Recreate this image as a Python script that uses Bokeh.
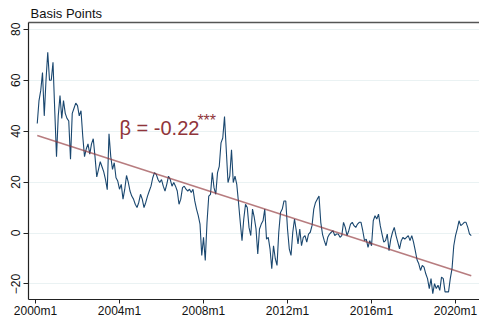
from bokeh.plotting import figure
from bokeh.models import Range1d, LinearAxis, FixedTicker, Label, ColumnDataSource
from bokeh.embed import file_html
from bokeh.resources import INLINE

# Monthly spread in basis points, starting 2000m2
start_month = 1  # months since 2000m1
seg_2000_2003 = [43, 52, 56, 63, 46, 60, 71, 60, 60, 67, 48, 30, 46, 54, 45, 52, 47, 45, 44, 29,
                 47, 49, 51, 50, 46, 48, 38, 30, 33, 35, 31, 35, 37, 30, 22, 25, 28, 26, 24, 21,
                 17, 39]
seg_2003_2007 = [30, 25, 27.6, 21.7, 20.4, 17.2, 19.1, 13.3, 17.2, 22.6, 20, 16.5, 14.5, 13.3, 11.3,
                 10, 12, 15.2, 13.3, 10, 12, 14.5, 16.5, 18.4, 21.7, 23.7, 23, 21, 19.8, 21,
                 18.4, 16.5, 19.1, 22.3, 21, 18.4, 19.8, 18.4, 16.5, 11.3, 13.3, 17.8, 18.4, 17.2]
seg_2007_2010 = [16.5, 17.2, 15.9, 17.2, 12.6, 9.4, 6.8, 3.5, -8.8, -1.7, -10.8, 4.2, 14.5, 15.2,
                 23.7, 17.8, 15.2, 23.7, 26.2, 35.4, 37.3, 45.7, 32.7, 19.8, 22.3, 32.7, 19.8,
                 22.3, 19.1, 12, 4.2, -3, 5.5, 11.3, 10, 2.2, -1, 9.4, 6.1, 1.6, -8.2, 1.6, 3.5]
seg_2011_2014 = [4.8, 9.4, -2.4, -1.7, -6.2, -14, -5, -10, -12.7, 0.3, 8.1, 9.4, 12.6, 12.6, 1.6,
                 -6.2, -8.8, 0.3, 5.5, 0.9, -4.3, 1.6, -5, -1.7, -1, -3.6, -0.4, 0.3, 2.9, 9.4,
                 12, 13.3, 14.5, 4.2, -0.5, -3, -5, -1.7, -0.4, 0.3, 0.9, -1, -0.4]
seg_2014_2017 = [-0.4, -1.7, -1, 4.2, 2.2, -1, 0.9, 3.5, 4.2, 2.9, 2.2, 3.5, 4.2, 4.2, 0.9, -3,
                 -2.4, -5.6, -3, -5, 4.8, 6.8, 5.5, 7.4, 2.9, -0.4, -3.6, -3, -0.4, -6.9, -2.4,
                 0.3, 2.2, -1, -3.6, -6.2, -3, -1.7, -2.4, -1.7, -1, -3]
seg_2018_2020 = [-1, -3.6, -6.9, -10.5, -12.1, -14.7, -12.7, -13.4, -16, -17.9, -21.8, -17.9,
                 -23.8, -19.9, -21.8, -20.5, -22.5, -17.3, -17.9, -23.1, -23.1, -23.1, -17.9,
                 -14, -5, -1, 1.6, 4.8, 2.9, 3.5, 4.2, 4.2, 2.2, -0.4, -1]

basis_points = (seg_2000_2003 + seg_2003_2007 + seg_2007_2010 + seg_2011_2014
                + seg_2014_2017 + seg_2018_2020)
months = list(range(start_month, start_month + len(basis_points)))

# Linear trend (fitted): value = fit_intercept + fit_slope * month
fit_intercept = 38.5
fit_slope = -0.222
fit_x = [months[0], months[-1]]
fit_y = [fit_intercept + fit_slope * m for m in fit_x]

tick_months = [0, 48, 96, 144, 192, 240]
tick_labels = ["2000m1", "2004m1", "2008m1", "2012m1", "2016m1", "2020m1"]
y_ticks = [-20, 0, 20, 40, 60, 80]

FONT = "Liberation Sans"
NAVY = "#1a476f"
MAROON = "#90353b"

p = figure(width=479, height=320, output_backend="svg", toolbar_location=None,
           x_range=Range1d(-4, 253.7), y_range=Range1d(-26.1, 82.65),
           x_axis_location=None, y_axis_location=None,
           min_border_left=28, min_border_right=0, min_border_top=22, min_border_bottom=19)
p.outline_line_color = None
p.background_fill_color = "white"
p.border_fill_color = "white"

p.title.text = "Basis Points"
p.title.text_font = FONT
p.title.text_font_size = "13px"
p.title.text_font_style = "normal"
p.title.text_color = "#111111"
p.title.align = "left"
p.title.offset = 2
p.title.standoff = 3

yaxis = LinearAxis(ticker=FixedTicker(ticks=y_ticks))
yaxis.major_label_orientation = "vertical"
yaxis.major_label_text_font = FONT
yaxis.major_label_text_font_size = "12px"
yaxis.major_label_text_color = "#111111"
yaxis.major_tick_out = 5
yaxis.major_tick_in = 0
yaxis.minor_tick_line_color = None
yaxis.major_label_standoff = 3
yaxis.axis_line_color = "#222222"
yaxis.axis_line_width = 1.2
yaxis.major_tick_line_color = "#222222"
p.add_layout(yaxis, "left")

xaxis = LinearAxis(ticker=FixedTicker(ticks=tick_months))
xaxis.major_label_overrides = {m: lab for m, lab in zip(tick_months, tick_labels)}
xaxis.major_label_text_font = FONT
xaxis.major_label_text_font_size = "12px"
xaxis.major_label_text_color = "#111111"
xaxis.major_tick_out = 4
xaxis.major_tick_in = 0
xaxis.minor_tick_line_color = None
xaxis.major_label_standoff = 0
xaxis.axis_line_color = "#222222"
xaxis.axis_line_width = 1.2
xaxis.major_tick_line_color = "#222222"
p.add_layout(xaxis, "below")

top = LinearAxis(ticker=FixedTicker(ticks=[]))
top.major_tick_line_color = None
top.minor_tick_line_color = None
top.major_label_text_font_size = "0px"
top.major_label_standoff = 0
top.major_tick_out = 0
top.axis_line_color = "#555555"
top.axis_line_width = 1.5
p.add_layout(top, "above")

p.xgrid.visible = False
p.ygrid.ticker = FixedTicker(ticks=y_ticks)
p.ygrid.grid_line_color = "#eaf2f3"
p.ygrid.grid_line_width = 1.2

src = ColumnDataSource(dict(month=months, bp=basis_points))
p.line("month", "bp", source=src, line_color=NAVY, line_width=1.1)
p.line(fit_x, fit_y, line_color=MAROON, line_alpha=0.65, line_width=1.6)

p.add_layout(Label(x=48, y=41.4, text="β = -0.22", text_font=FONT, text_font_size="20px",
                   text_color=MAROON, text_baseline="alphabetic", text_align="left"))
p.add_layout(Label(x=92.5, y=47.6, text="***", text_font=FONT, text_font_size="16px",
                   text_color=MAROON, text_baseline="top", text_align="left"))

open("out.html", "w").write(file_html(p, INLINE))
